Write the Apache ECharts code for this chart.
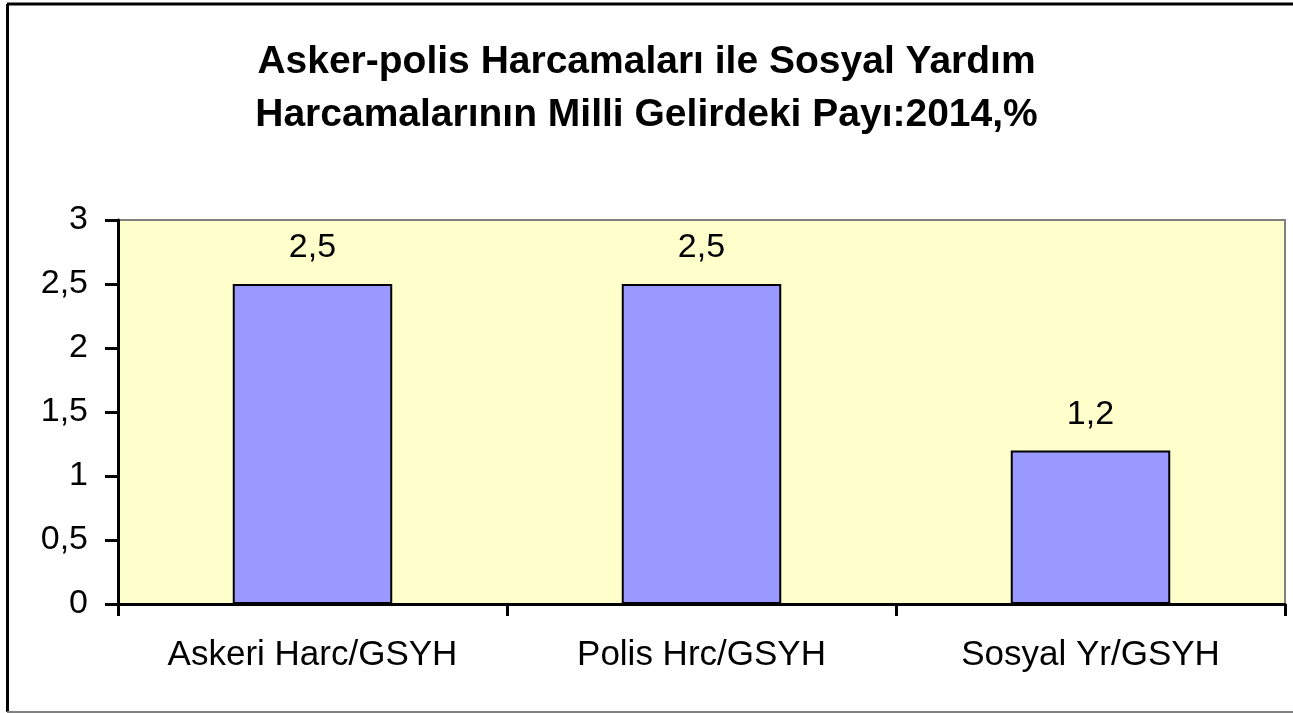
<!DOCTYPE html>
<html>
<head>
<meta charset="utf-8">
<script src="https://cdn.jsdelivr.net/npm/echarts@6/dist/echarts.min.js"></script>
<style>
    html, body {
        margin: 0;
        padding: 0;
        background: #fff;
    }
    #chart {
        width: 1293px;
        height: 713px;
    }
</style>
</head>
<body>
<div id="chart"></div>
<script>
const categories = ['Askeri Harc/GSYH', 'Polis Hrc/GSYH', 'Sosyal Yr/GSYH'];
const shares = [2.5, 2.5, 1.2];
const titleLines = ['Asker-polis Harcamaları ile Sosyal Yardım', 'Harcamalarının Milli Gelirdeki Payı:2014,%'];

const font = '"Liberation Sans", Arial, sans-serif';
// decimal comma, as in the original
const comma = v => String(v).replace('.', ',');

const chart = echarts.init(document.getElementById('chart'));

chart.setOption({
    animation: false,
    backgroundColor: '#fff',
    title: {
        text: titleLines.join('\n'),
        left: 'center',
        top: 31,
        textStyle: {
            fontFamily: font,
            fontSize: 39,
            fontWeight: 'bold',
            lineHeight: 53,
            color: '#000'
        }
    },
    grid: {
        left: 118,
        right: 8,
        top: 220,
        bottom: 109,
        show: true,
        backgroundColor: '#FFFFCC',
        borderColor: '#808080',
        borderWidth: 2
    },
    xAxis: {
        type: 'category',
        data: categories,
        axisLine: { lineStyle: { color: '#000', width: 3 } },
        axisTick: { show: true, length: 12, lineStyle: { color: '#000', width: 3 } },
        axisLabel: {
            fontFamily: font,
            fontSize: 35,
            color: '#000',
            margin: 34
        },
        splitLine: { show: false }
    },
    yAxis: {
        type: 'value',
        min: 0,
        max: 3,
        interval: 0.5,
        axisLine: { show: true, lineStyle: { color: '#000', width: 3 } },
        axisTick: { show: true, length: 13, lineStyle: { color: '#000', width: 3 } },
        axisLabel: {
            fontFamily: font,
            fontSize: 34,
            color: '#000',
            margin: 30,
            formatter: comma
        },
        splitLine: { show: false }
    },
    series: [
        {
            type: 'bar',
            data: shares,
            barWidth: '41%',
            itemStyle: {
                color: '#9999FF',
                borderColor: '#000',
                borderWidth: 2
            },
            label: {
                show: true,
                position: 'top',
                distance: 19,
                fontFamily: font,
                fontSize: 34,
                color: '#000',
                formatter: p => comma(p.value)
            }
        }
    ],
    graphic: [
        { type: 'line', shape: { x1: 7, y1: 4, x2: 1293, y2: 4 }, style: { stroke: '#000', lineWidth: 3 } },
        { type: 'line', shape: { x1: 7.5, y1: 4, x2: 7.5, y2: 712 }, style: { stroke: '#000', lineWidth: 3 } },
        { type: 'line', shape: { x1: 7, y1: 712, x2: 1293, y2: 712 }, style: { stroke: '#808080', lineWidth: 2 } }
    ]
});
</script>
</body>
</html>
